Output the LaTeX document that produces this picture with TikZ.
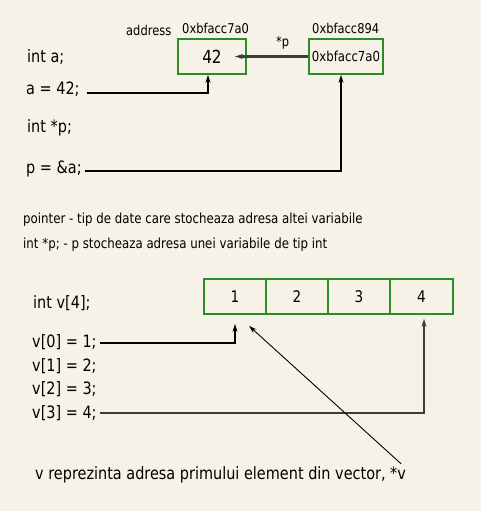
\documentclass[tikz,border=0pt]{standalone}
\usepackage{fontspec}
\setmainfont{DejaVu Sans}[FakeStretch=0.85]
\usetikzlibrary{arrows.meta}
\definecolor{bg}{RGB}{246,242,232}
\definecolor{boxgreen}{RGB}{45,140,40}
\definecolor{arrgray}{RGB}{60,60,60}
\tikzset{
  lbl/.style={anchor=base west, inner sep=0pt, font=\fontsize{17}{20}\selectfont},
  small/.style={anchor=base west, inner sep=0pt, font=\fontsize{13.5}{16}\selectfont},
  note/.style={anchor=base west, inner sep=0pt, font=\fontsize{13.9}{16}\selectfont},
  cell/.style={draw=boxgreen, line width=1.8pt, minimum height=35pt, inner sep=0pt, font=\fontsize{16}{19}\selectfont},
  tip/.style={-{Stealth[length=8pt,width=5pt]}},
}
\begin{document}
\begin{tikzpicture}[x=1pt,y=-1pt]
\fill[bg] (0,0) rectangle (481,511);
\useasboundingbox (0,0) rectangle (481,511);
% top part
\node[small] (addr) at (126,36) {address};
\node[small] (h1) at (182,34) {0xbfacc7a0};
\node[small] (h2) at (312,34) {0xbfacc894};
\node[cell, minimum width=68pt, font=\fontsize{18}{21}\selectfont] (b1) at (212,56.5) {42};
\node[cell, minimum width=74pt, font=\fontsize{13.8}{16}\selectfont] (b2) at (346,56.5) {0xbfacc7a0};
\node[small] (star) at (276,47) {*p};
\node[lbl] (t1) at (27,63) {int a;};
\node[lbl] (t2) at (26,94) {a = 42;};
\node[lbl] (t3) at (27,132) {int *p;};
\node[lbl] (t4) at (26,173) {p = \&a;};
\draw[tip, arrgray, line width=2.2pt] (b2.west) -- ([xshift=-12pt]b1.east);
\draw[tip, line width=1.2pt] ([xshift=7pt,yshift=1pt]t2.base east) -| ([xshift=-4pt]b1.south);
\draw[tip, line width=2pt] ([xshift=3pt,yshift=2pt]t4.base east) -| ([xshift=-5pt]b2.south);
% notes
\node[note] (n1) at (23,223) {pointer - tip de date care stocheaza adresa altei variabile};
\node[note] (n2) at (23,248) {int *p; - p stocheaza adresa unei variabile de tip int};
% array
\node[cell, minimum width=62pt] (c1) at (235,296.5) {1};
\node[cell, minimum width=62pt] (c2) at (297,296.5) {2};
\node[cell, minimum width=62pt] (c3) at (359,296.5) {3};
\node[cell, minimum width=63pt] (c4) at (421.5,296.5) {4};
\node[lbl] (v) at (33,308) {int v[4];};
\node[lbl] (v0) at (32,347) {v[0] = 1;};
\node[lbl] (v1) at (32,371) {v[1] = 2;};
\node[lbl] (v2) at (32,394) {v[2] = 3;};
\node[lbl] (v3) at (32,418) {v[3] = 4;};
\node[lbl] (bt) at (35,479) {v reprezinta adresa primului element din vector, *v};
\draw[tip, line width=1.2pt] ([xshift=3pt,yshift=4pt]v0.base east) -| ([yshift=-9pt]c1.south);
\draw[tip, arrgray, line width=2.4pt] ([xshift=3pt,yshift=5pt]v3.base east) -| ([xshift=2.5pt,yshift=-4pt]c4.south);
\draw[tip, line width=0.9pt] ([xshift=-5pt,yshift=2pt]bt.north east) -- ([xshift=14pt,yshift=-11pt]c1.south);
\end{tikzpicture}
\end{document}
